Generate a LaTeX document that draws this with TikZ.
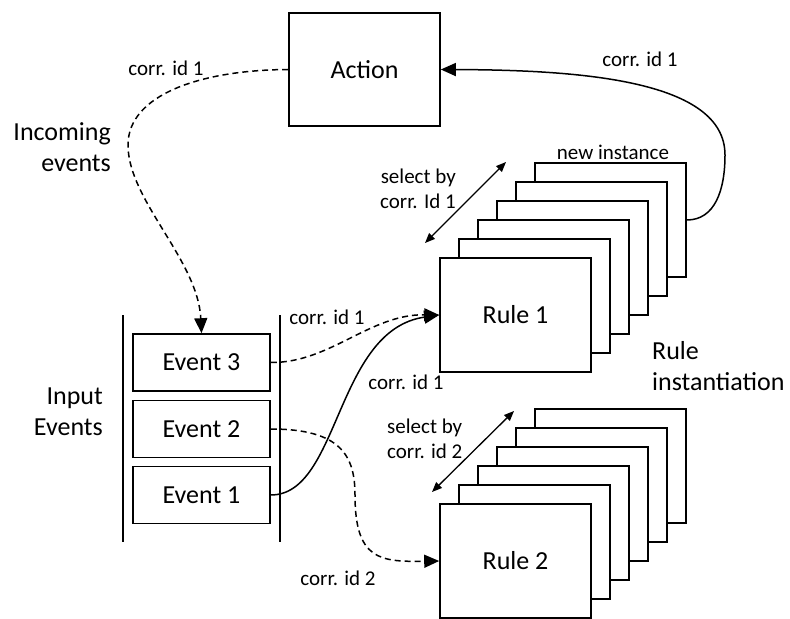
\documentclass[tikz,border=0pt]{standalone}
\usepackage{fontspec}
\setmainfont{Carlito}
\usetikzlibrary{arrows.meta}
\newcommand\biglbl{\fontsize{26bp}{31bp}\selectfont}
\newcommand\smalllbl{\fontsize{21bp}{25bp}\selectfont}
\begin{document}
\begin{tikzpicture}[x=1bp,y=-1bp,
  rulebox/.style={draw,line width=1.6bp,fill=white,minimum width=151bp,minimum height=114bp,inner sep=0pt,font=\biglbl},
  eventbox/.style={draw,line width=1.6bp,fill=white,minimum width=137bp,minimum height=57bp,inner sep=0pt,font=\biglbl},
  lbl/.style={inner sep=0pt,font=\smalllbl},
  biglabel/.style={inner sep=0pt,font=\biglbl},
  flow/.style={line width=1.5bp,-{Triangle[length=15bp,width=13bp]}},
  dflow/.style={flow,dash pattern=on 6bp off 4bp},
  select/.style={line width=1.3bp,{Triangle[length=10bp,width=8bp]}-{Triangle[length=10bp,width=8bp]}}
]
\useasboundingbox (0,0) rectangle (790,619);

% action
\node[rulebox,minimum height=113bp] (action) at (364.5,69.5) {Action};

% stack of instances for rule 1
\foreach \i in {5,4,...,1}
  \node[rulebox] (r1s\i) at ({515.5+19*\i},{315-19*\i}) {};
\node[rulebox] (rule1) at (515.5,315) {Rule 1};

% stack of instances for rule 2
\foreach \i in {5,4,...,1}
  \node[rulebox] (r2s\i) at ({515.5+19*\i},{561-19*\i}) {};
\node[rulebox] (rule2) at (515.5,561) {Rule 2};

% input event queue
\node[eventbox] (ev3) at (201.5,362.5) {Event 3};
\node[eventbox] (ev2) at (201.5,429) {Event 2};
\node[eventbox] (ev1) at (201.5,495) {Event 1};
\coordinate (qlt) at (123,315);
\coordinate (qlb) at (123,542);
\coordinate (qrt) at (280,315);
\coordinate (qrb) at (280,542);
\draw[line width=1.6bp] (qlt) -- (qlb);
\draw[line width=1.6bp] (qrt) -- (qrb);

% labels
\node[biglabel,anchor=east,align=right] (incoming) at (111,147) {Incoming\\events};
\node[biglabel,anchor=east,align=right] (input) at (103,412) {Input\\Events};
\node[biglabel,anchor=west,align=left] (inst) at (652,366) {Rule\\instantiation};
\node[lbl] (lact) at (166,68) {corr. id 1};
\node[lbl] (lret) at (640,59) {corr. id 1};
\node[lbl] (lnew) at (613,152) {new instance};
\node[lbl] (le3) at (327,317) {corr. id 1};
\node[lbl] (le1) at (406,382) {corr. id 1};
\node[lbl] (le2) at (338,578) {corr. id 2};
\node[lbl,anchor=east,align=right] (sel1) at (456,189) {select by\\corr. Id 1};
\node[lbl,anchor=west,align=left] (sel2) at (387,439) {select by\\corr. id 2};

% action feeds a new event into the queue
\coordinate (bend) at (128,145);
\draw[dflow] (action.west) .. controls (200,70) and (128,95) .. (bend)
  .. controls (128,200) and (198,260) .. (ev3.north);

% events routed to rule instances
\draw[dflow] (ev3.east) .. controls (330,363) and (370,314) .. (rule1.west);
\draw[flow] (ev1.east) .. controls (340,495) and (335,330) .. (rule1.west);
\coordinate (drop) at (355,495);
\draw[dflow] (ev2.east) .. controls (340,429) and (355,455) .. (drop)
  .. controls (355,560) and (380,562) .. (rule2.west);

% new instance triggers the action
\coordinate (loop) at (725,155);
\draw[flow] (r1s5.east) .. controls (715,220) and (725,190) .. (loop)
  .. controls (725,80) and (580,70) .. (action.east);

% selection by correlation id
\coordinate (s1a) at (425,243);
\coordinate (s1b) at (506,162);
\draw[select] (s1a) -- (s1b);
\coordinate (s2a) at (432,492);
\coordinate (s2b) at (514,411);
\draw[select] (s2a) -- (s2b);
\end{tikzpicture}
\end{document}
